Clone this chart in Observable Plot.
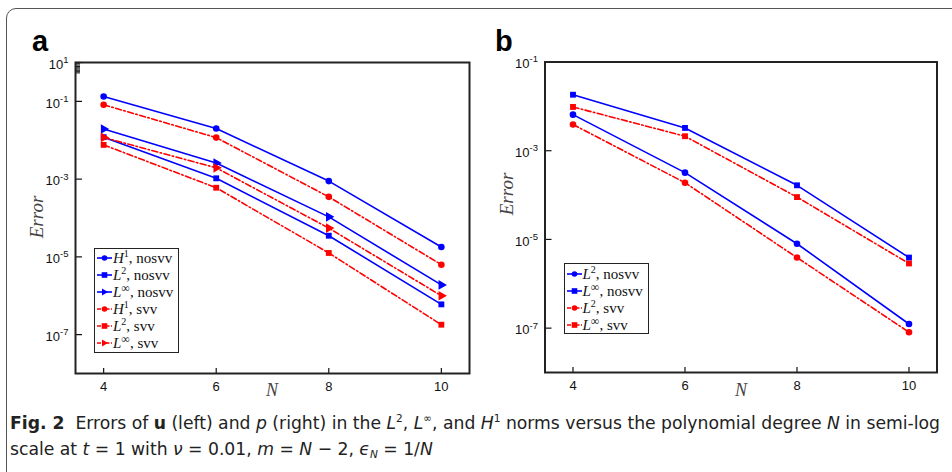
<!DOCTYPE html>
<html><head><meta charset="utf-8">
<script src="https://cdn.jsdelivr.net/npm/d3@7"></script>
<script src="https://cdn.jsdelivr.net/npm/@observablehq/plot@0.6"></script>
<style>
html,body{margin:0;padding:0;background:#fff;}
#page{position:relative;width:952px;height:472px;overflow:hidden;background:#fff;}
#border{position:absolute;left:6px;top:8px;width:1000px;height:1000px;border:1.5px solid #555;border-radius:10px;box-sizing:border-box;}
.panel{position:absolute;top:0;}
.panel svg{display:block;}
.plbl{position:absolute;font:bold 29px "Liberation Sans",Arial,sans-serif;color:#000;line-height:1;}
.ylab{position:absolute;font:italic 19px "Liberation Serif",serif;color:#444;transform:translate(-50%,-50%) rotate(-90deg);white-space:nowrap;line-height:1;}
.xlab{position:absolute;font:italic 18px "Liberation Serif",serif;color:#444;transform:translate(-50%,-50%);white-space:nowrap;line-height:1;}
.legend{position:absolute;box-sizing:border-box;border:1.5px solid #222;background:#fff;font:15px "Liberation Serif",serif;color:#111;padding:0 0 0 1px;}
.row{height:17px;display:flex;align-items:center;white-space:nowrap;}
.row svg{margin-right:1px;flex:none;}
.row sup{font-size:10px;vertical-align:6px;line-height:0;}
.row sup.inf{font-size:12px;vertical-align:5px;}
#caption{position:absolute;left:10px;top:410px;font:18px "Liberation Sans Narrow","DejaVu Sans Condensed","Liberation Sans",sans-serif;color:#222;}
#caption .ln{white-space:nowrap;line-height:26px;transform-origin:0 50%;display:inline-block;}
#caption sup{font-size:11px;vertical-align:7px;line-height:0;}
#caption sub{font-size:11px;vertical-align:-3px;line-height:0;}
</style>
</head><body>
<div id="page">
  <div id="border"></div>
  <div id="left" class="panel" style="left:0px"></div>
  <div id="right" class="panel" style="left:476px"></div>
  <div class="plbl" style="left:32px;top:27px">a</div>
  <div class="plbl" style="left:495px;top:27px">b</div>
  <div class="ylab" style="left:36px;top:217px">Error</div>
  <div class="ylab" style="left:506px;top:194px">Error</div>
  <div class="xlab" style="left:272px;top:390px">N</div>
  <div class="xlab" style="left:741px;top:390px">N</div>
  <div id="legL" class="legend" style="left:94px;top:248px;width:85px;height:105px;padding-top:0.5px"></div>
  <div id="legR" class="legend" style="left:563.5px;top:263px;width:85px;height:71px;padding-top:1.5px"></div>
  <div id="caption">
    <div><span class="ln" id="cap1"><b>Fig. 2</b>&nbsp; Errors of <b>u</b> (left) and <i>p</i> (right) in the <i>L</i><sup>2</sup>, <i>L</i><sup>∞</sup>, and <i>H</i><sup>1</sup> norms versus the polynomial degree <i>N</i> in semi-log</span></div>
    <div><span class="ln" id="cap2">scale at <i>t</i> = 1 with <i>ν</i> = 0.01, <i>m</i> = <i>N</i> − 2, <i>ϵ</i><sub><i>N</i></sub> = 1/<i>N</i></span></div>
  </div>
</div>
<script>
// ---------- data ----------
const N = [4, 6, 8, 10];
// panel a: errors of u
const uH1Nosvv   = [0.134, 0.020, 8.9e-4, 1.8e-5];
const uL2Nosvv   = [0.012, 1.05e-3, 3.5e-5, 6.0e-7];
const uLinfNosvv = [0.0195, 2.6e-3, 1.07e-4, 1.9e-6];
const uH1Svv     = [0.082, 0.0117, 3.5e-4, 6.3e-6];
const uL2Svv     = [7.6e-3, 6.0e-4, 1.26e-5, 1.8e-7];
const uLinfSvv   = [0.0118, 1.95e-3, 5.5e-5, 1.0e-6];
// panel b: errors of p
const pL2Nosvv   = [6.5e-3, 3.2e-4, 8.0e-6, 1.24e-7];
const pLinfNosvv = [0.0183, 3.26e-3, 1.66e-4, 3.9e-6];
const pL2Svv     = [3.9e-3, 1.9e-4, 3.9e-6, 8.1e-8];
const pLinfSvv   = [9.7e-3, 2.12e-3, 9.0e-5, 2.87e-6];
// ticks
const xTicks = [4, 6, 8, 10];
const uYTicks = [1, 1e-1, 1e-3, 1e-5, 1e-7];
const uYTickLabels = ["1", "-1", "-3", "-5", "-7"];
const uYMinorTicks = [0.93, 0.86, 0.79, 0.73, 0.68, 0.63, 0.58, 0.54];
const pYTicks = [1e-1, 1e-3, 1e-5, 1e-7];
const pYTickLabels = ["-1", "-3", "-5", "-7"];
// legend labels
const uLegend = ["<i>H</i><sup>1</sup>, nosvv", "<i>L</i><sup>2</sup>, nosvv", "<i>L</i><sup class='inf'>∞</sup>, nosvv",
                 "<i>H</i><sup>1</sup>, svv", "<i>L</i><sup>2</sup>, svv", "<i>L</i><sup class='inf'>∞</sup>, svv"];
const pLegend = ["<i>L</i><sup>2</sup>, nosvv", "<i>L</i><sup class='inf'>∞</sup>, nosvv",
                 "<i>L</i><sup>2</sup>, svv", "<i>L</i><sup class='inf'>∞</sup>, svv"];

const BLUE = "#0000ff", RED = "#ff0000";
const DASHDOT = "6,2.5,1.5,2.5";
const sty = (values, color, symbol, dash) => ({values, color, symbol, dash});

const uSeries = [
  sty(uH1Nosvv, BLUE, "circle", null),
  sty(uL2Nosvv, BLUE, "square", null),
  sty(uLinfNosvv, BLUE, "triangle", null),
  sty(uH1Svv, RED, "circle", DASHDOT),
  sty(uL2Svv, RED, "square", DASHDOT),
  sty(uLinfSvv, RED, "triangle", DASHDOT)
];
const pSeries = [
  sty(pL2Nosvv, BLUE, "circle", null),
  sty(pLinfNosvv, BLUE, "square", null),
  sty(pL2Svv, RED, "circle", DASHDOT),
  sty(pLinfSvv, RED, "square", DASHDOT)
];

const symR = {circle: 3.3, square: 3.3, triangle: 3.6};

function makePanel(series, yDomain, yTicks, yLabels, minor, m) {
  const labelMap = new Map(yTicks.map((t, i) => [t, yLabels[i]]));
  const marks = [
    Plot.axisX(xTicks, {anchor: "bottom", tickSize: -5, tickPadding: 13, label: null, tickFormat: d => String(d), fontSize: 13, strokeWidth: 1.2}),
    Plot.axisY(yTicks, {anchor: "left", tickSize: -7, tickPadding: 14, label: null, tickFormat: d => labelMap.get(d), fontSize: 13, strokeWidth: 1.2})
  ];
  if (minor.length) marks.push(Plot.axisY(minor, {anchor: "left", tickSize: -5, fill: "none", label: null, strokeWidth: 1}));
  series.forEach(s => {
    const rows = N.map((n, i) => ({N: n, v: s.values[i]}));
    marks.push(Plot.line(rows, {x: "N", y: "v", stroke: s.color, strokeWidth: 1.6, strokeDasharray: s.dash}));
  });
  series.forEach(s => {
    const rows = N.map((n, i) => ({N: n, v: s.values[i]}));
    marks.push(Plot.dot(rows, {x: "N", y: "v", symbol: s.symbol, fill: s.color, stroke: "none", r: symR[s.symbol], rotate: s.symbol === "triangle" ? 90 : 0}));
  });
  marks.push(Plot.frame({stroke: "#222", strokeWidth: 2}));
  const svg = Plot.plot({
    width: 476, height: 400,
    marginLeft: m[0], marginRight: m[1], marginTop: m[2], marginBottom: m[3],
    x: {domain: [3.5, 10.5], label: null},
    y: {type: "log", domain: yDomain, label: null},
    style: {fontFamily: "'Liberation Sans', Arial, sans-serif", fontSize: "13px", color: "#111", background: "transparent"},
    marks
  });
  d3.select(svg).selectAll('g[aria-label="y-axis tick label"] text').each(function() {
    const e = this.textContent;
    if (!yLabels.includes(e)) return;
    this.textContent = "";
    const t = d3.select(this);
    t.append("tspan").attr("dy", "0.15em").text("10");
    t.append("tspan").attr("dy", "-0.6em").attr("font-size", "9.5px").text(e);
  });
  return svg;
}

document.getElementById("left").appendChild(makePanel(uSeries, [1e-8, 1], uYTicks, uYTickLabels, uYMinorTicks, [75, 7, 62, 27]));
document.getElementById("right").appendChild(makePanel(pSeries, [1e-8, 1e-1], pYTicks, pYTickLabels, [], [68.5, 15.5, 61.5, 28]));

function icon(s) {
  const svg = d3.create("svg").attr("width", 16).attr("height", 12);
  svg.append("line").attr("x1", 1).attr("x2", 16).attr("y1", 6).attr("y2", 6)
    .attr("stroke", s.color).attr("stroke-width", 1.6).attr("stroke-dasharray", s.dash ? "4,1.5,1.5,1.5" : null);
  const cx = 8.5, cy = 6;
  if (s.symbol === "circle") svg.append("circle").attr("cx", cx).attr("cy", cy).attr("r", 2.8).attr("fill", s.color);
  else if (s.symbol === "square") svg.append("rect").attr("x", cx - 2.8).attr("y", cy - 2.8).attr("width", 5.6).attr("height", 5.6).attr("fill", s.color);
  else svg.append("path").attr("d", `M${cx + 3.5},${cy} L${cx - 2.5},${cy - 3.5} L${cx - 2.5},${cy + 3.5} Z`).attr("fill", s.color);
  return svg.node();
}
function legend(id, series, labels) {
  const el = document.getElementById(id);
  series.forEach((s, i) => {
    const row = document.createElement("div");
    row.className = "row";
    row.appendChild(icon(s));
    const sp = document.createElement("span");
    sp.innerHTML = labels[i];
    row.appendChild(sp);
    el.appendChild(row);
  });
}
legend("legL", uSeries, uLegend);
legend("legR", pSeries, pLegend);

// fit caption width
const c1 = document.getElementById("cap1"), c2 = document.getElementById("cap2");
const w = c1.getBoundingClientRect().width;
const k = 930 / w;
c1.style.transform = `scaleX(${k})`;
c2.style.transform = `scaleX(${k})`;
</script>
</body></html>
